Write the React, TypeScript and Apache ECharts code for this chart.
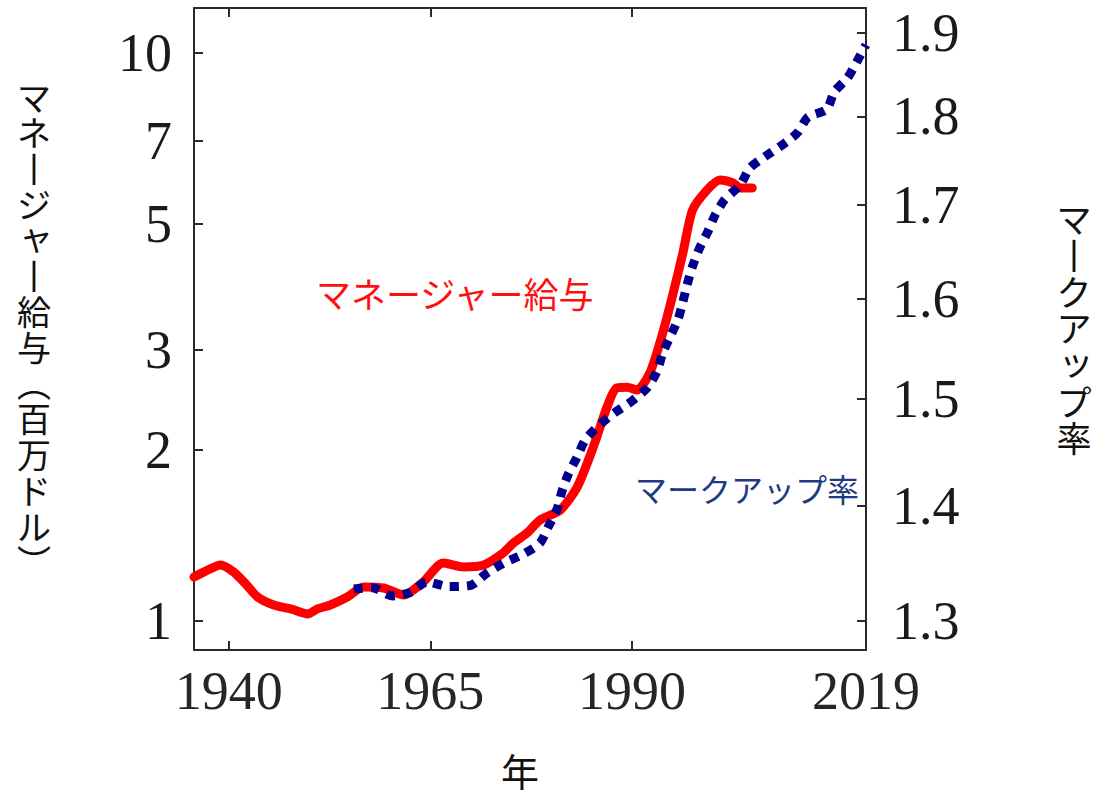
import React, { useEffect, useRef } from "react";
import * as echarts from "echarts";

// Manager pay (millions of dollars, left log axis)
const managerYears = [1935.7, 1937.2, 1939.0, 1940.6, 1942.1, 1943.6, 1945.6, 1947.7, 1949.8, 1951.0, 1952.6, 1954.7, 1956.7, 1959.2, 1961.7, 1964.1, 1966.6, 1969.1, 1971.6, 1974.0, 1975.3, 1977.0, 1978.6, 1981.1, 1983.2, 1985.2, 1986.9, 1988.1, 1989.4, 1990.6, 1992.2, 1993.8, 1995.1, 1996.3, 1997.5, 1999.3, 2000.9, 2002.5, 2003.4, 2004.9];
const managerPay = [1.195, 1.225, 1.255, 1.22, 1.162, 1.102, 1.067, 1.05, 1.029, 1.05, 1.067, 1.102, 1.148, 1.143, 1.111, 1.171, 1.265, 1.245, 1.255, 1.317, 1.372, 1.429, 1.506, 1.568, 1.721, 2.025, 2.381, 2.572, 2.58, 2.551, 2.733, 3.214, 3.78, 4.445, 5.291, 5.739, 5.976, 5.904, 5.786, 5.786];

// Markup ratio (right log axis)
const markupYears = [1955.5, 1957.8, 1960.3, 1962.5, 1964.6, 1967.2, 1970.0, 1971.9, 1974.0, 1976.5, 1978.6, 1979.6, 1980.7, 1981.3, 1982.1, 1983.2, 1984.2, 1985.8, 1987.9, 1990.0, 1991.9, 1993.1, 1993.8, 1994.7, 1995.7, 1996.3, 1996.9, 1997.5, 1998.4, 1999.4, 2000.3, 2001.5, 2003.4, 2004.6, 2006.5, 2008.6, 2010.5, 2011.8, 2014.1, 2015.1, 2016.7, 2018.0, 2019.0];
const markup = [1.327, 1.328, 1.321, 1.324, 1.333, 1.329, 1.330, 1.340, 1.349, 1.357, 1.367, 1.381, 1.397, 1.413, 1.429, 1.445, 1.461, 1.474, 1.487, 1.498, 1.511, 1.527, 1.545, 1.561, 1.579, 1.597, 1.617, 1.634, 1.654, 1.671, 1.689, 1.706, 1.722, 1.741, 1.754, 1.767, 1.781, 1.799, 1.808, 1.829, 1.845, 1.867, 1.885];

const xTicks = [1940, 1965, 1990, 2019];
const leftTicks = [1, 2, 3, 5, 7, 10];
const rightTicks = [1.3, 1.4, 1.5, 1.6, 1.7, 1.8, 1.9];

// Vertical axis titles (one character per cell)
const leftTitle = ["マ", "ネ", "丨", "ジ", "ャ", "丨", "給", "与", "︵", "百", "万", "ド", "ル", "︶"];
const rightTitle = ["マ", "丨", "ク", "ア", "ッ", "プ", "率"];

const SERIF = "'Liberation Serif', 'DejaVu Serif', serif";
const JP = "'Noto Sans CJK JP', 'Noto Sans', sans-serif";
const AXIS_COLOR = "#2a2a2a";

// layout of the vertical titles
const LEFT_TITLE = { x: 34, y0: 96, step: 35.75, size: 34 };
const RIGHT_TITLE = { x: 1074, y0: 217, step: 36.6, size: 35 };
const SMALL_KANA = "ャッ";

function verticalText(chars: string[], lay: { x: number; y0: number; step: number; size: number }) {
  return chars.map((ch, i) => {
    const small = SMALL_KANA.indexOf(ch) >= 0;
    return {
      type: "text",
      x: lay.x + (small ? 2 : 0),
      y: lay.y0 + i * lay.step - (small ? 4 : 0),
      style: {
        text: ch,
        fontFamily: JP,
        fontSize: lay.size,
        fill: "#111",
        align: "center",
        verticalAlign: "middle",
      },
    };
  });
}

export default function App() {
  const ref = useRef<HTMLDivElement>(null);
  useEffect(() => {
    if (!ref.current) return;
    const chart = echarts.init(ref.current, null, { renderer: "svg" });
    const lineAxis = { show: true, onZero: false, lineStyle: { color: AXIS_COLOR, width: 2 } };
    const tick = { show: true, inside: true, length: 9, lineStyle: { color: AXIS_COLOR, width: 2 } };
    const labelFont = { fontFamily: SERIF, fontSize: 54, color: "#1a1a1a" };
    chart.setOption({
      animation: false,
      backgroundColor: "#ffffff",
      grid: { left: 194, right: 228, top: 8, bottom: 141, containLabel: false },
      xAxis: [
        {
          type: "value",
          position: "bottom",
          min: 1935.7,
          max: 2019,
          axisLine: lineAxis,
          axisTick: { ...tick, customValues: xTicks },
          axisLabel: { ...labelFont, color: "#262626", margin: 14, customValues: xTicks, formatter: (v: number) => String(Math.round(v)) },
          splitLine: { show: false },
        },
        {
          type: "value",
          position: "top",
          min: 1935.7,
          max: 2019,
          axisLine: lineAxis,
          axisTick: { ...tick, customValues: xTicks },
          axisLabel: { show: false },
          splitLine: { show: false },
        },
      ],
      yAxis: [
        {
          type: "log",
          position: "left",
          min: 0.889,
          max: 12.0,
          axisLine: lineAxis,
          axisTick: { ...tick, customValues: leftTicks },
          axisLabel: { ...labelFont, margin: 22, customValues: leftTicks, formatter: (v: number) => String(Math.round(v)) },
          splitLine: { show: false },
          minorTick: { show: false },
        },
        {
          type: "log",
          position: "right",
          min: 1.2757,
          max: 1.9303,
          axisLine: lineAxis,
          axisTick: { ...tick, customValues: rightTicks },
          axisLabel: { ...labelFont, margin: 26, customValues: rightTicks, formatter: (v: number) => Number(v).toFixed(1) },
          splitLine: { show: false },
          minorTick: { show: false },
        },
      ],
      series: [
        {
          type: "line",
          name: "マネージャー給与",
          xAxisIndex: 0,
          yAxisIndex: 0,
          data: managerYears.map((y, i) => [y, managerPay[i]]),
          showSymbol: false,
          smooth: 0.25,
          lineStyle: { color: "#ff0000", width: 9, cap: "round", join: "round" },
          z: 2,
        },
        {
          type: "line",
          name: "マークアップ率",
          xAxisIndex: 0,
          yAxisIndex: 1,
          data: markupYears.map((y, i) => [y, markup[i]]),
          showSymbol: false,
          smooth: 0.25,
          lineStyle: { color: "#00008b", width: 9, type: [9, 8], cap: "butt" },
          z: 3,
        },
      ],
      graphic: [
        ...verticalText(leftTitle, LEFT_TITLE),
        ...verticalText(rightTitle, RIGHT_TITLE),
        {
          type: "text",
          x: 520,
          y: 769,
          style: { text: "年", fontFamily: JP, fontSize: 38, fill: "#111", align: "center", verticalAlign: "middle" },
        },
        {
          type: "text",
          x: 316,
          y: 292,
          style: { text: "マネージャー給与", fontFamily: JP, fontSize: 35, fill: "#ff1010", align: "left", verticalAlign: "middle" },
        },
        {
          type: "text",
          x: 635,
          y: 488,
          style: { text: "マークアップ率", fontFamily: JP, fontSize: 32, fill: "#1f3a85", align: "left", verticalAlign: "middle" },
        },
      ],
    });
    return () => chart.dispose();
  }, []);
  return (
    <div
      ref={ref}
      style={{ position: "fixed", left: 0, top: 0, width: 1094, height: 791, background: "#fff" }}
    />
  );
}
